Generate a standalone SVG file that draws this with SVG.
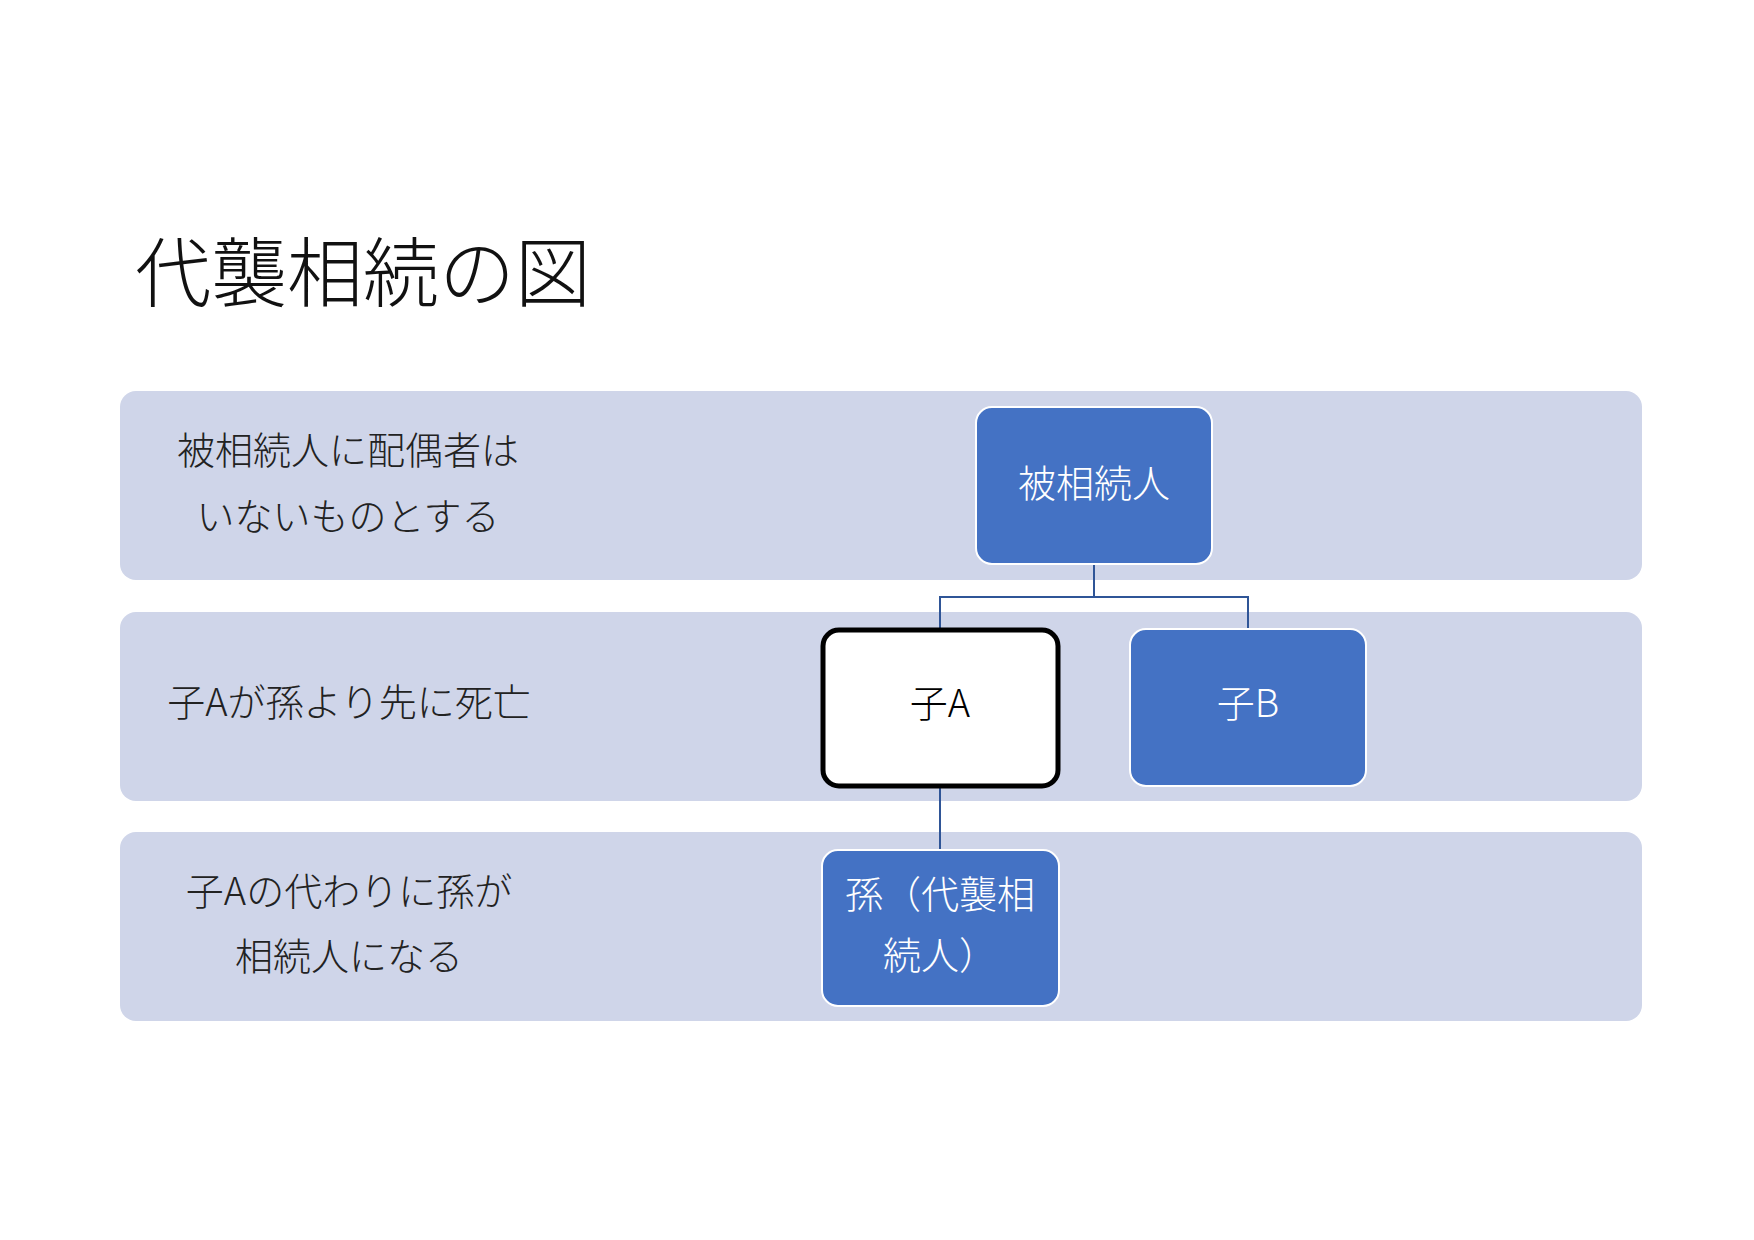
<svg xmlns="http://www.w3.org/2000/svg" width="1754" height="1240" viewBox="0 0 1754 1240">
<style>
text{font-family:"Noto Sans CJK JP","Noto Sans",sans-serif;font-weight:300}
.band{fill:#CFD5E9}
.lbl{font-size:38px;fill:#222;text-anchor:middle}
.node{fill:#4472C4;stroke:#fff;stroke-width:2}
.nt{font-size:38px;fill:#fff;text-anchor:middle}
.con{stroke:#2F5597;stroke-width:2;fill:none}
</style>
<rect width="1754" height="1240" fill="#fff"/>
<text x="135" y="301" font-size="76" fill="#111">代襲相続の図</text>
<g id="band1"><rect class="band" x="120" y="391" width="1522" height="189" rx="16"/>
<text class="lbl" x="348" y="464">被相続人に配偶者は</text><text class="lbl" x="348" y="530">いないものとする</text></g>
<g id="band2"><rect class="band" x="120" y="612" width="1522" height="189" rx="16"/>
<text class="lbl" x="349" y="716">子Aが孫より先に死亡</text></g>
<g id="band3"><rect class="band" x="120" y="832" width="1522" height="189" rx="16"/>
<text class="lbl" x="349" y="905">子Aの代わりに孫が</text><text class="lbl" x="349" y="970">相続人になる</text></g>
<g id="connectors">
<polyline class="con" points="1094,564 1094,597 940,597 940,629"/>
<polyline class="con" points="1094,597 1248,597 1248,629"/>
<line class="con" x1="940" y1="787" x2="940" y2="850"/>
</g>
<g id="n1"><rect class="node" x="976" y="407" width="236" height="157" rx="16"/><text class="nt" x="1094" y="497">被相続人</text></g>
<g id="nA"><rect x="823" y="630" width="235" height="156" rx="16" fill="#fff" stroke="#000" stroke-width="5"/><text class="nt" x="940" y="717" fill="#000" style="fill:#000">子A</text></g>
<g id="nB"><rect class="node" x="1130" y="629" width="236" height="157" rx="16"/><text class="nt" x="1248" y="717">子B</text></g>
<g id="nG"><rect class="node" x="822" y="850" width="237" height="156" rx="16"/><text class="nt" x="940" y="908">孫（代襲相</text><text class="nt" x="940" y="969">続人）</text></g>
</svg>
